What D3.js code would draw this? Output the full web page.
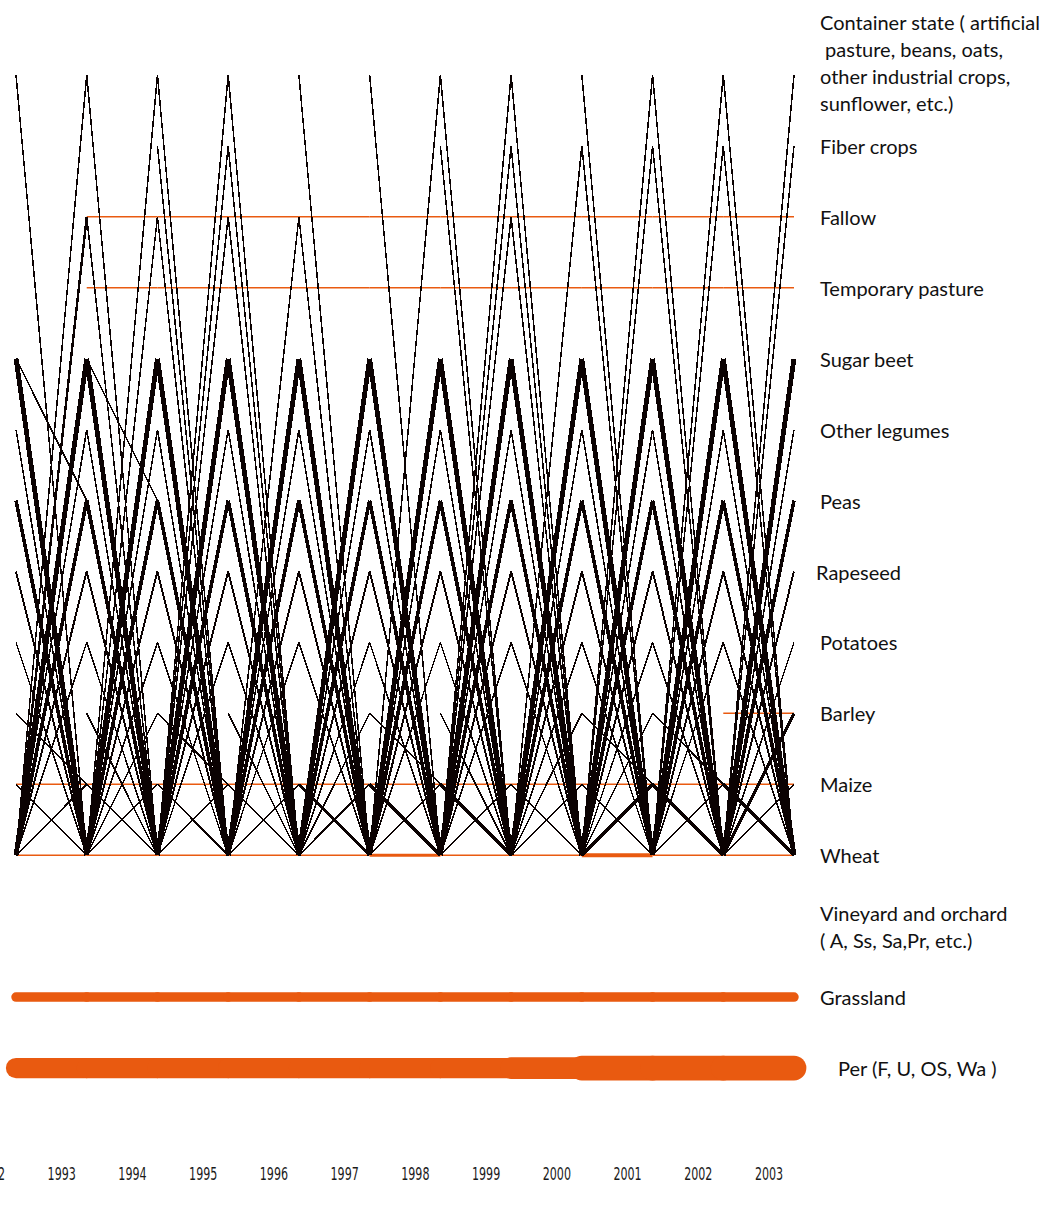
<!DOCTYPE html>
<html><head><meta charset="utf-8">
<script src="https://cdn.jsdelivr.net/npm/d3@7/dist/d3.min.js"></script>
<style>body{margin:0;background:#fff}svg{display:block}</style>
</head><body>
<svg id="chart" width="1043" height="1209"></svg>
<script>
// ---- data ----
const years = [1992,1993,1994,1995,1996,1997,1998,1999,2000,2001,2002,2003];
const yearLabels = ["1992","1993","1994","1995","1996","1997","1998","1999","2000","2001","2002","2003"];
const crops = ["Container state","Fiber crops","Fallow","Temporary pasture","Sugar beet","Other legumes",
  "Peas","Rapeseed","Potatoes","Barley","Maize","Wheat","Vineyard and orchard","Grassland","Per"];
const cropLabels = [
  ["Container state ( artificial"," pasture, beans, oats,","other industrial crops,","sunflower, etc.)"],
  ["Fiber crops"],["Fallow"],["Temporary pasture"],["Sugar beet"],["Other legumes"],["Peas"],
  ["Rapeseed"],["Potatoes"],["Barley"],["Maize"],["Wheat"],
  ["Vineyard and orchard","( A, Ss, Sa,Pr, etc.)"],["Grassland"],["Per (F, U, OS, Wa )"]
];
// transitions: counts for each year-to-year step 1992-93 ... 2002-03
const wheatToContainer = [1,1,1,0,0,1,1,0,1,1,1];
const containerToWheat = [1,1,1,1,1,1,1,1,1,1,1];
const wheatToFiber     = [0,0,1,0,0,0,1,1,1,1,1];
const fiberToWheat     = [0,0,1,1,0,0,1,1,1,1,1];
const wheatToFallow    = [1.6,1,1,1,0,0,1,0,0,0,0];
const fallowToWheat    = [0,1,1,1,1,0,0,1,0,0,0];
const fallowStay       = [0,1,1,1,1,1,1,1,1,1,1];
const pastureStay      = [0,1,1,1,1,1,1,1,1,1,1];
const wheatToBeet      = [3.2,3.2,3.2,3.2,3.2,3.2,3.2,3.2,3.2,3.2,3.2];
const beetToWheat      = [3.2,3.2,3.2,3.2,3.2,3.2,3.2,3.2,3.2,3.2,3.2];
const beetToPeas       = [1,1,0,0,0,0,0,0,0,0,0];
const wheatToLegumes   = [1,1,1,1,1,1,1,1,1,1,1];
const legumesToWheat   = [1,1,1,1,1,1,1,1,1,1,1];
const wheatToPeas      = [2.4,2.4,2.4,2.4,2.4,2.4,2.4,2.4,2.4,2.4,2.4];
const peasToWheat      = [2.4,2.4,2.4,2.4,2.4,2.4,2.4,2.4,2.4,2.4,2.4];
const wheatToRape      = [1.3,1.3,1.3,1.3,1.3,1.3,1.3,1.3,1.3,1.3,1.3];
const rapeToWheat      = [1.3,1.3,1.3,1.3,1.3,1.3,1.3,1.3,1.3,1.3,1.3];
const wheatToPotato    = [1,1,1,1,1,1,1,1,1,1,1];
const potatoToWheat    = [1,1,1,1,1,1,1,1,1,1,1];
const wheatToBarley    = [0,1,0,0,1,0,0,1,1,0,2.2];
const barleyToWheat    = [0,1,0,1,0,0,1,0,0,0,0];
const barleyToMaize    = [1,0,1,0,0,1,0,0,1,1,0];
const barleyStay       = [0,0,0,0,0,0,0,0,0,0,1];
const maizeToWheat     = [1,1,1,1,2.2,2.2,2.2,1,1,2.2,2.2];
const wheatToMaize     = [1,1,1,1,1,1,1,1,2.2,1,1];
const maizeStay        = [1,1,1,1,1,1,1,1,1,1,1];
const wheatStay        = [1,1,1,1,1,2,1,1,2.7,1,1];
const grassStay        = [6.3,6.3,6.3,6.3,6.3,6.3,6.3,6.3,6.3,6.3,6.3];
const perStay          = [13.5,13.5,13.5,13.5,13.5,13.5,13.5,14.5,16.5,16.5,16.5];

const transitions = [
  ["Wheat","Container state",wheatToContainer],["Container state","Wheat",containerToWheat],
  ["Wheat","Fiber crops",wheatToFiber],["Fiber crops","Wheat",fiberToWheat],
  ["Wheat","Fallow",wheatToFallow],["Fallow","Wheat",fallowToWheat],["Fallow","Fallow",fallowStay],
  ["Temporary pasture","Temporary pasture",pastureStay],
  ["Wheat","Other legumes",wheatToLegumes],["Other legumes","Wheat",legumesToWheat],
  ["Wheat","Potatoes",wheatToPotato],["Potatoes","Wheat",potatoToWheat],
  ["Wheat","Rapeseed",wheatToRape],["Rapeseed","Wheat",rapeToWheat],
  ["Sugar beet","Peas",beetToPeas],
  ["Wheat","Barley",wheatToBarley],["Barley","Wheat",barleyToWheat],["Barley","Maize",barleyToMaize],
  ["Barley","Barley",barleyStay],
  ["Maize","Wheat",maizeToWheat],["Wheat","Maize",wheatToMaize],
  ["Maize","Maize",maizeStay],["Wheat","Wheat",wheatStay],
  ["Wheat","Peas",wheatToPeas],["Peas","Wheat",peasToWheat],
  ["Wheat","Sugar beet",wheatToBeet],["Sugar beet","Wheat",beetToWheat],
  ["Grassland","Grassland",grassStay],["Per","Per",perStay]
];

// ---- drawing ----
const svg = d3.select("#chart");
const x = d3.scalePoint().domain(years).range([16, 794]);
const y = d3.scalePoint().domain(crops).range([75, 1068]);
const w = d3.scaleLinear().domain([0, 1]).range([0, 1.5]);
const ORANGE = "#e95a10", BLACK = "#0b0202";

const segs = [];
transitions.forEach(([from, to, counts]) => {
  counts.forEach((c, i) => {
    if (c > 0) segs.push({from, to, c, x1: x(years[i]), x2: x(years[i + 1]), y1: y(from), y2: y(to)});
  });
});
const same = segs.filter(d => d.from === d.to);
const diff = segs.filter(d => d.from !== d.to);

svg.append("g").selectAll("line").data(same).join("line")
  .attr("x1", d => d.x1).attr("x2", d => d.x2)
  .attr("y1", d => d.y1).attr("y2", d => d.y2)
  .attr("stroke", ORANGE).attr("stroke-width", d => w(d.c))
  .attr("stroke-linecap", d => d.c > 3 ? "round" : "butt");

svg.append("g").selectAll("line").data(diff).join("line")
  .attr("x1", d => d.x1).attr("x2", d => d.x2)
  .attr("y1", d => d.y1).attr("y2", d => d.y2)
  .attr("stroke", BLACK).attr("stroke-width", d => w(d.c))
  .attr("shape-rendering", "crispEdges");

// crop labels
const lab = svg.append("g").attr("font-family", "Lato, 'Open Sans', sans-serif")
  .attr("font-size", 20).attr("fill", "#111");
crops.forEach((c, i) => {
  const lines = cropLabels[i];
  const lh = 27;
  const shift = i === 0 ? -13 : 0;
  const dx = c === "Per" ? 18 : (c === "Rapeseed" ? -4 : 0);
  lines.forEach((t, k) => {
    lab.append("text").attr("x", 820 + dx)
      .attr("y", y(c) + shift + (k - (lines.length - 1) / 2) * lh)
      .attr("dominant-baseline", "central")
      .style("white-space", "pre").text(t);
  });
});

// year axis labels (tall, narrow bitmap-like digits)
const yr = svg.append("g").attr("font-family", "'DejaVu Sans Condensed', 'DejaVu Sans', sans-serif")
  .attr("font-size", 13).attr("fill", "#1a1a1a");
years.forEach((d, i) => {
  yr.append("text")
    .attr("transform", `translate(${x(d) - 25},1180) scale(0.95,1.35)`)
    .attr("text-anchor", "middle").text(yearLabels[i]);
});
</script>
</body></html>
